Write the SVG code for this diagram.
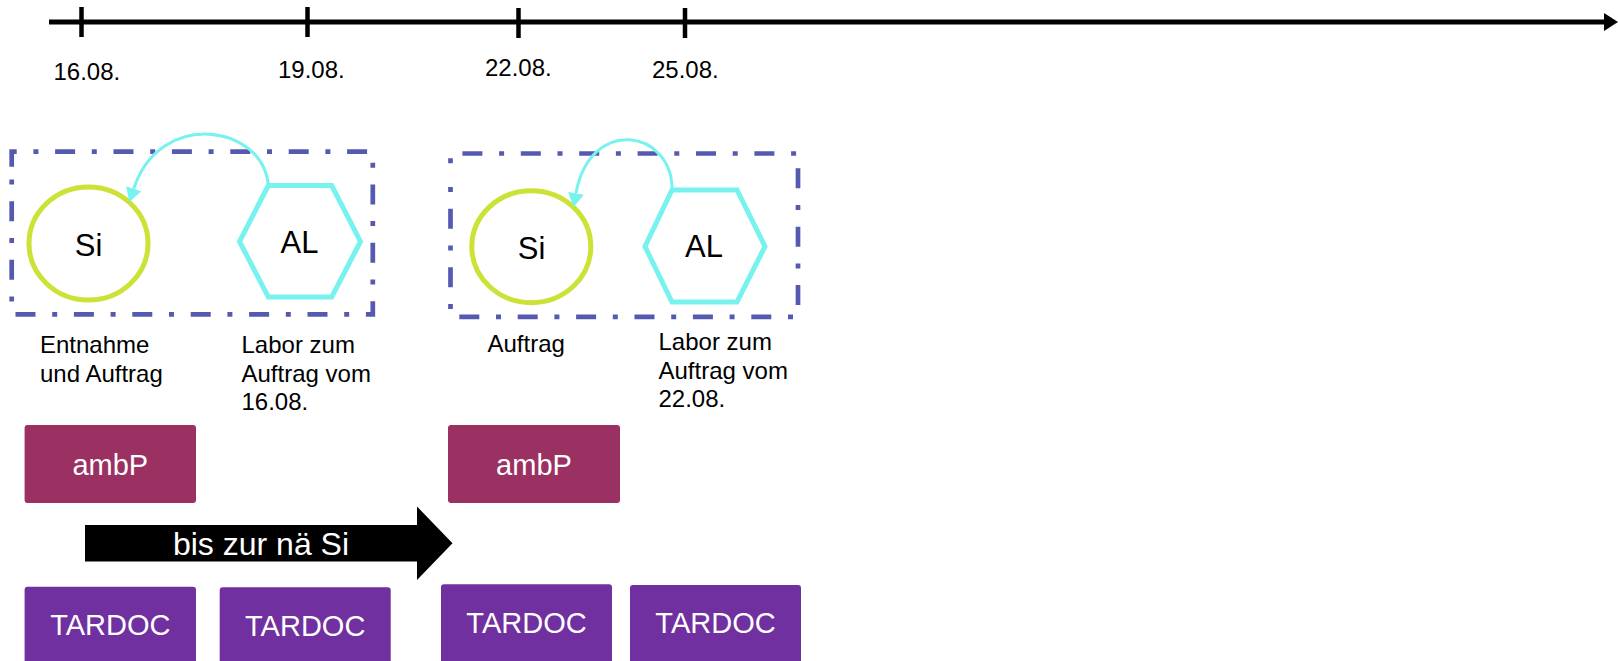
<svg xmlns="http://www.w3.org/2000/svg" width="1618" height="661" viewBox="0 0 1618 661">
<style>
text{font-family:"Liberation Sans",Arial,sans-serif;fill:#000}
.date{font-size:24px}
.lbl{font-size:24px}
.big{font-size:31px}
.frame{fill:none;stroke:#5659B0;stroke-width:4.7;stroke-dasharray:20 16.7 5 16.7}
.si{fill:#fff;stroke:#CCE236;stroke-width:5}
.al{fill:#fff;stroke:#77F2EE;stroke-width:5}
.ambp{fill:#9B3162}
.tar{fill:#7030A0}
.wt{fill:#fff;font-size:29px;text-anchor:middle}
.link{fill:none;stroke:#77F2EE;stroke-width:3}
.tick{stroke:#000;stroke-width:4.5}
</style>
<defs>
<marker id="ah" markerUnits="userSpaceOnUse" viewBox="0 0 14 16" refX="0" refY="8" markerWidth="14" markerHeight="16" orient="auto">
<path d="M0,0 L14,8 L0,16 Z" fill="#77F2EE"/>
</marker>
<marker id="tl" markerUnits="userSpaceOnUse" viewBox="0 0 14 18" refX="0" refY="9" markerWidth="14" markerHeight="18" orient="auto">
<path d="M0,0 L14,9 L0,18 Z" fill="#000"/>
</marker>
</defs>

<g id="timeline">
<line x1="49" y1="22" x2="1604" y2="22" stroke="#000" stroke-width="5" marker-end="url(#tl)"/>
<line class="tick" x1="81.5" y1="7" x2="81.5" y2="37"/>
<line class="tick" x1="307.5" y1="7" x2="307.5" y2="37"/>
<line class="tick" x1="518.5" y1="8" x2="518.5" y2="38"/>
<line class="tick" x1="685" y1="8" x2="685" y2="38"/>
<text class="date" x="53.5" y="79.5">16.08.</text>
<text class="date" x="278" y="77.5">19.08.</text>
<text class="date" x="485" y="76">22.08.</text>
<text class="date" x="652" y="77.5">25.08.</text>
</g>

<g id="group1">
<path class="frame" d="M11.7,166.7 V151.7 H372.8 V314.3 H11.7 Z"/>
</g>
<g id="si1">
<ellipse class="si" cx="88.5" cy="243.5" rx="59.5" ry="56.5"/>
<text class="big" x="88.5" y="255.5" text-anchor="middle">Si</text>
</g>
<g id="al1">
<polygon class="al" points="268.3,185.5 331.7,185.5 360.5,241.5 331.7,297 268.3,297 239.5,241.5"/>
<text class="big" x="299.5" y="253.3" text-anchor="middle">AL</text>
</g>
<g id="lbl1">
<text class="lbl" x="40" y="353">Entnahme</text>
<text class="lbl" x="40" y="381.5">und Auftrag</text>
</g>
<g id="lbl2">
<text class="lbl" x="241.5" y="353">Labor zum</text>
<text class="lbl" x="241.5" y="381.5">Auftrag vom</text>
<text class="lbl" x="241.5" y="410">16.08.</text>
</g>

<g id="group2">
<path class="frame" style="stroke-dashoffset:20" d="M450.5,180 V153.5 H798 V316.8 H450.5 Z"/>
</g>
<g id="si2">
<ellipse class="si" cx="531.3" cy="246.7" rx="59.5" ry="56"/>
<text class="big" x="531.5" y="258.5" text-anchor="middle">Si</text>
</g>
<g id="al2">
<polygon class="al" points="672,190 737,190 765,246.5 737,302 672,302 645,246.5"/>
<text class="big" x="704" y="257.3" text-anchor="middle">AL</text>
</g>
<g id="lbl3">
<text class="lbl" x="487.5" y="351.5">Auftrag</text>
</g>
<g id="lbl4">
<text class="lbl" x="658.5" y="350">Labor zum</text>
<text class="lbl" x="658.5" y="378.5">Auftrag vom</text>
<text class="lbl" x="658.5" y="407">22.08.</text>
</g>

<g id="ambp1">
<rect class="ambp" x="24.6" y="425" width="171.4" height="78" rx="3"/>
<text class="wt" x="110.3" y="474.5">ambP</text>
</g>
<g id="ambp2">
<rect class="ambp" x="448" y="425" width="172" height="78" rx="3"/>
<text class="wt" x="534" y="474.5">ambP</text>
</g>

<g id="until">
<polygon points="85,525 417,525 417,506.5 452.5,543.3 417,580 417,561.5 85,561.5" fill="#000"/>
<text x="261" y="554.5" style="fill:#fff;font-size:32px" text-anchor="middle">bis zur nä Si</text>
</g>

<g id="tardoc1">
<rect class="tar" x="24.6" y="586.7" width="171.4" height="80" rx="3"/>
<text class="wt" x="110.3" y="635">TARDOC</text>
</g>
<g id="tardoc2">
<rect class="tar" x="219.7" y="587.3" width="171" height="80" rx="3"/>
<text class="wt" x="305.2" y="635.5">TARDOC</text>
</g>
<g id="tardoc3">
<rect class="tar" x="441" y="584.3" width="171" height="80" rx="3"/>
<text class="wt" x="526.5" y="632.7">TARDOC</text>
</g>
<g id="tardoc4">
<rect class="tar" x="630" y="585" width="171" height="80" rx="3"/>
<text class="wt" x="715.5" y="633.3">TARDOC</text>
</g>

<g id="connectors">
<path class="link" d="M268.3,185.5 C264,125 160,108 133.7,188.7" marker-end="url(#ah)"/>
<path class="link" d="M672,190 C673,130 590,115 576,193.3" marker-end="url(#ah)"/>
</g>
</svg>
